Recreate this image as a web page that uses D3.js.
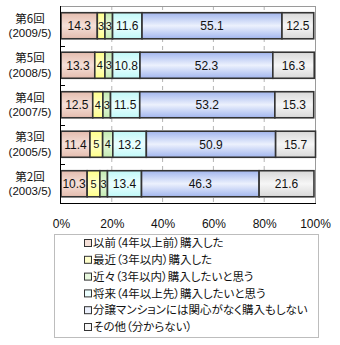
<!DOCTYPE html>
<html>
<head>
<meta charset="utf-8">
<script src="https://cdn.jsdelivr.net/npm/d3@7/dist/d3.min.js"></script>
<style>
  html, body { margin: 0; padding: 0; background: #fff; }
  svg { display: block; }
  .jp { font-family: "Noto Sans CJK JP", sans-serif; }
  .lat { font-family: "Liberation Sans", Arial, sans-serif; }
</style>
</head>
<body>
<svg id="chart" width="340" height="345"></svg>
<script>
// Survey rounds, top to bottom
const rounds = ["第6回", "第5回", "第4回", "第3回", "第2回"];
const roundDates = ["(2009/5)", "(2008/5)", "(2007/5)", "(2005/5)", "(2003/5)"];

// Answer categories (stack order, left to right)
const answers = [
  "以前（4年以上前）購入した",
  "最近（3年以内）購入した",
  "近々（3年以内）購入したいと思う",
  "将来（4年以上先）購入したいと思う",
  "分譲マンションには関心がなく購入もしない",
  "その他（分からない）"
];

// Percent per answer, one array per round
const r6 = [14.3, 3, 3, 11.6, 55.1, 12.5];
const r5 = [13.3, 4, 3, 10.8, 52.3, 16.3];
const r4 = [12.5, 4, 3, 11.5, 53.2, 15.3];
const r3 = [11.4, 5, 4, 13.2, 50.9, 15.7];
const r2 = [10.3, 5, 3, 13.4, 46.3, 21.6];
const values = [r6, r5, r4, r3, r2];

const xTicks = [0, 20, 40, 60, 80, 100];

// Fill colours: [edge, centre] of a vertical gradient
const fills = [
  ["#e4bcae", "#f5e0d8"],
  ["#ffff88", "#ffffcc"],
  ["#c2eab0", "#e8f8de"],
  ["#c0f8f8", "#ecffff"],
  ["#a2b6ee", "#ecf1fd"],
  ["#d8d8d8", "#f6f6f6"]
];

const svg = d3.select("#chart");
const defs = svg.append("defs");
fills.forEach((c, i) => {
  const g = defs.append("linearGradient")
    .attr("id", "g" + i).attr("x1", 0).attr("y1", 0).attr("x2", 0).attr("y2", 1);
  g.append("stop").attr("offset", "0%").attr("stop-color", c[0]);
  g.append("stop").attr("offset", "50%").attr("stop-color", c[1]);
  g.append("stop").attr("offset", "100%").attr("stop-color", c[0]);
});

const x = d3.scaleLinear().domain([0, 100]).range([61, 315]);
const y = d3.scaleBand().domain(rounds).range([6, 203.5])
  .paddingInner(0.34).paddingOuter(0.17);

// Dashed gridlines
svg.append("g").selectAll("line")
  .data(xTicks.filter(t => t > 0 && t < 100))
  .join("line")
  .attr("x1", d => x(d)).attr("x2", d => x(d))
  .attr("y1", y.range()[0]).attr("y2", y.range()[1])
  .attr("stroke", "#b4b4b4").attr("stroke-dasharray", "4,4");

// Plot frame: grey top/right, black left/bottom
svg.append("line").attr("x1", x(0)).attr("x2", x(100)).attr("y1", y.range()[0] + 0.5).attr("y2", y.range()[0] + 0.5).attr("stroke", "#9a9a9a");
svg.append("line").attr("x1", x(100) + 0.5).attr("x2", x(100) + 0.5).attr("y1", y.range()[0]).attr("y2", y.range()[1]).attr("stroke", "#9a9a9a");

// Stacked segments
const rows = svg.append("g").selectAll("g")
  .data(rounds)
  .join("g");

rows.each(function (r, ri) {
  const vals = values[ri];
  let acc = 0;
  const segs = vals.map((v, i) => {
    const s = { i, v, x0: acc, x1: acc + v };
    acc += v;
    return s;
  });
  const g = d3.select(this);
  g.selectAll("rect")
    .data(segs)
    .join("rect")
    .attr("x", d => x(d.x0))
    .attr("width", d => x(d.x1) - x(d.x0))
    .attr("y", y(r))
    .attr("height", y.bandwidth())
    .attr("fill", d => `url(#g${d.i})`)
    .attr("stroke", "#333")
    .attr("stroke-width", 1.6);
  g.selectAll("text")
    .data(segs)
    .join("text")
    .attr("class", "lat")
    .attr("x", d => (x(d.x0) + x(d.x1)) / 2)
    .attr("y", y(r) + y.bandwidth() / 2)
    .attr("dy", "0.36em")
    .attr("text-anchor", "middle")
    .attr("font-size", d => d.v < 6 ? 11 : 12)
    .attr("fill", "#111")
    .text(d => d.v);
});

// Left axis with inward ticks at band boundaries
const axisG = svg.append("g");
axisG.append("line").attr("x1", x(0) - 0.5).attr("x2", x(0) - 0.5)
  .attr("y1", y.range()[0]).attr("y2", y.range()[1] + 0.5).attr("stroke", "#000");
axisG.append("line").attr("x1", x(0) - 0.5).attr("x2", x(100) + 1)
  .attr("y1", y.range()[1]).attr("y2", y.range()[1]).attr("stroke", "#000");
axisG.selectAll(".tk")
  .data(rounds.slice(1))
  .join("line")
  .attr("class", "tk")
  .attr("x1", x(0)).attr("x2", x(0) + 4)
  .attr("y1", d => Math.round(y(d) - (y.step() - y.bandwidth()) / 2) + 0.5)
  .attr("y2", d => Math.round(y(d) - (y.step() - y.bandwidth()) / 2) + 0.5)
  .attr("stroke", "#000");

// Category labels (two lines each)
const labG = svg.append("g").selectAll("g")
  .data(rounds)
  .join("g");
labG.append("text")
  .attr("class", "jp")
  .attr("text-anchor", "middle")
  .attr("font-size", 11.5)
  .attr("fill", "#111")
  .attr("x", 30)
  .attr("y", d => y(d) + y.bandwidth() / 2 - 3)
  .text(d => d);
labG.append("text")
  .attr("class", "lat")
  .attr("text-anchor", "middle")
  .attr("font-size", 11.5)
  .attr("fill", "#111")
  .attr("x", 30)
  .attr("y", d => y(d) + y.bandwidth() / 2 + 11.5)
  .text((d, i) => roundDates[i]);

// Bottom percent labels
const xAxis = d3.axisBottom(x).tickValues(xTicks).tickSize(0).tickPadding(0)
  .tickFormat(d => d + "%");
const xg = svg.append("g").attr("transform", "translate(0,219)").call(xAxis);
xg.select(".domain").remove();
xg.selectAll("text")
  .attr("font-family", "Liberation Sans, Arial, sans-serif")
  .attr("font-size", 12)
  .attr("fill", "#111");

// Legend
const legend = svg.append("g");
legend.append("rect")
  .attr("x", 54.5).attr("y", 234.5).attr("width", 264).attr("height", 103)
  .attr("fill", "#fff").attr("stroke", "#bdbdbd");
const ly = d3.scalePoint().domain(answers).range([243, 327]);
const li = legend.selectAll("g.item")
  .data(answers)
  .join("g").attr("class", "item")
  .attr("transform", d => `translate(0,${ly(d)})`);
li.append("rect")
  .attr("x", 84.5).attr("y", -3.5).attr("width", 7).attr("height", 7)
  .attr("fill", (d, i) => fills[i][1])
  .attr("stroke", "#333");
li.append("text")
  .attr("class", "jp")
  .attr("x", 93)
  .attr("dy", "0.36em")
  .attr("font-size", 11.5)
  .attr("fill", "#111")
  .style("font-feature-settings", '"palt"')
  .text(d => d);
</script>
</body>
</html>
